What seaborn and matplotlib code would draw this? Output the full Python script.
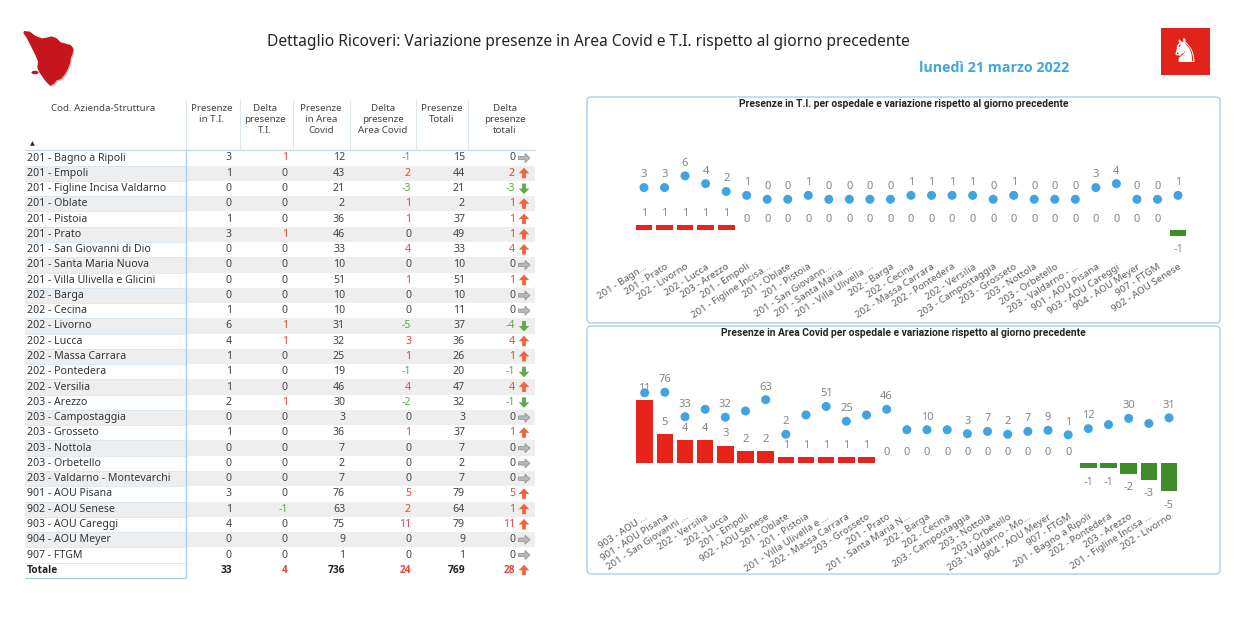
import numpy as np
import pandas as pd
import seaborn as sns
import matplotlib.pyplot as plt
from matplotlib.patches import Rectangle, FancyBboxPatch, Polygon, Ellipse, FancyArrow

# table data (one row per hospital)
names = ['201 - Bagno a Ripoli', '201 - Empoli', '201 - Figline Incisa Valdarno', '201 - Oblate',
         '201 - Pistoia', '201 - Prato', '201 - San Giovanni di Dio', '201 - Santa Maria Nuova',
         '201 - Villa Ulivella e Glicini', '202 - Barga', '202 - Cecina', '202 - Livorno',
         '202 - Lucca', '202 - Massa Carrara', '202 - Pontedera', '202 - Versilia',
         '203 - Arezzo', '203 - Campostaggia', '203 - Grosseto', '203 - Nottola',
         '203 - Orbetello', '203 - Valdarno - Montevarchi', '901 - AOU Pisana', '902 - AOU Senese',
         '903 - AOU Careggi', '904 - AOU Meyer', '907 - FTGM']
ti = [3, 1, 0, 0, 1, 3, 0, 0, 0, 0, 1, 6, 4, 1, 1, 1, 2, 0, 1, 0, 0, 0, 3, 1, 4, 0, 0]
delta_ti = [1, 0, 0, 0, 0, 1, 0, 0, 0, 0, 0, 1, 1, 0, 0, 0, 1, 0, 0, 0, 0, 0, 0, -1, 0, 0, 0]
covid = [12, 43, 21, 2, 36, 46, 33, 10, 51, 10, 10, 31, 32, 25, 19, 46, 30, 3, 36, 7, 2, 7, 76, 63, 75, 9, 1]
delta_covid = [-1, 2, -3, 1, 1, 0, 4, 0, 1, 0, 0, -5, 3, 1, -1, 4, -2, 0, 1, 0, 0, 0, 5, 2, 11, 0, 0]

# chart orders and axis labels
ti_order = ['201 - Bagno a Ripoli', '201 - Prato', '202 - Livorno', '202 - Lucca', '203 - Arezzo',
            '201 - Empoli', '201 - Figline Incisa Valdarno', '201 - Oblate', '201 - Pistoia',
            '201 - San Giovanni di Dio', '201 - Santa Maria Nuova', '201 - Villa Ulivella e Glicini',
            '202 - Barga', '202 - Cecina', '202 - Massa Carrara', '202 - Pontedera', '202 - Versilia',
            '203 - Campostaggia', '203 - Grosseto', '203 - Nottola', '203 - Orbetello',
            '203 - Valdarno - Montevarchi', '901 - AOU Pisana', '903 - AOU Careggi', '904 - AOU Meyer',
            '907 - FTGM', '902 - AOU Senese']
ti_labels = ['201 - Bagn...', '201 - Prato', '202 - Livorno', '202 - Lucca', '203 - Arezzo',
             '201 - Empoli', '201 - Figline Incisa...', '201 - Oblate', '201 - Pistoia',
             '201 - San Giovann...', '201 - Santa Maria ...', '201 - Villa Ulivella ...',
             '202 - Barga', '202 - Cecina', '202 - Massa Carrara', '202 - Pontedera', '202 - Versilia',
             '203 - Campostaggia', '203 - Grosseto', '203 - Nottola', '203 - Orbetello',
             '203 - Valdarno - ...', '901 - AOU Pisana', '903 - AOU Careggi', '904 - AOU Meyer',
             '907 - FTGM', '902 - AOU Senese']
covid_order = ['903 - AOU Careggi', '901 - AOU Pisana', '201 - San Giovanni di Dio', '202 - Versilia',
               '202 - Lucca', '201 - Empoli', '902 - AOU Senese', '201 - Oblate', '201 - Pistoia',
               '201 - Villa Ulivella e Glicini', '202 - Massa Carrara', '203 - Grosseto', '201 - Prato',
               '201 - Santa Maria Nuova', '202 - Barga', '202 - Cecina', '203 - Campostaggia',
               '203 - Nottola', '203 - Orbetello', '203 - Valdarno - Montevarchi', '904 - AOU Meyer',
               '907 - FTGM', '201 - Bagno a Ripoli', '202 - Pontedera', '203 - Arezzo',
               '201 - Figline Incisa Valdarno', '202 - Livorno']
covid_labels = ['903 - AOU ...', '901 - AOU Pisana', '201 - San Giovanni ...', '202 - Versilia',
                '202 - Lucca', '201 - Empoli', '902 - AOU Senese', '201 - Oblate', '201 - Pistoia',
                '201 - Villa Ulivella e ...', '202 - Massa Carrara', '203 - Grosseto', '201 - Prato',
                '201 - Santa Maria N...', '202 - Barga', '202 - Cecina', '203 - Campostaggia',
                '203 - Nottola', '203 - Orbetello', '203 - Valdarno - Mo...', '904 - AOU Meyer',
                '907 - FTGM', '201 - Bagno a Ripoli', '202 - Pontedera', '203 - Arezzo',
                '201 - Figline Incisa ...', '202 - Livorno']
# Power BI drops these dot labels because they collide with neighbours
covid_hidden = ['903 - AOU Careggi', '202 - Versilia', '201 - Empoli', '201 - Pistoia', '203 - Grosseto',
                '201 - Santa Maria Nuova', '202 - Cecina', '202 - Pontedera', '201 - Figline Incisa Valdarno']

df = pd.DataFrame({'name': names, 'ti': ti, 'delta_ti': delta_ti,
                   'covid': covid, 'delta_covid': delta_covid})
df['totale'] = df['ti'] + df['covid']
df['delta_tot'] = df['delta_ti'] + df['delta_covid']
df = df.set_index('name')

sns.set_theme(style='white')
plt.rcParams['font.family'] = ['Noto Sans', 'DejaVu Sans']
BOLD = ['Open Sans', 'DejaVu Sans']

RED_BAR = '#E8231B'
GREEN_BAR = '#3E8C2B'
RED_TXT = '#E4473D'
GREEN_TXT = '#5DAA47'
BLUE = '#41A4E0'
TXT = '#444444'
LABEL = '#858585'

W, H = 1234, 634
fig = plt.figure(figsize=(W / 100, H / 100), dpi=100)
bg = fig.add_axes([0, 0, 1, 1])
bg.set_xlim(0, W)
bg.set_ylim(H, 0)
bg.axis('off')

# header
tuscany = [(42, 48), (60, 50), (75, 62), (95, 70), (110, 68), (125, 64), (140, 70), (152, 82),
           (168, 86), (182, 90), (190, 100), (188, 115), (182, 130), (180, 145), (172, 165),
           (163, 180), (152, 192), (140, 196), (132, 206), (120, 212), (108, 200), (98, 186),
           (88, 172), (82, 158), (84, 140), (76, 120), (66, 100), (56, 80), (48, 65), (40, 55)]
bg.add_patch(Polygon([(10 + x / 3 + 1.2, 15 + y / 3 + 1.2) for x, y in tuscany], color='#BBBBBB', lw=0))
bg.add_patch(Polygon([(10 + x / 3, 15 + y / 3) for x, y in tuscany], color='#C4161C', lw=0))
bg.add_patch(Ellipse((35, 72.5), 7, 3.5, color='#C4161C', lw=0))
bg.text(588, 42, 'Dettaglio Ricoveri: Variazione presenze in Area Covid e T.I. rispetto al giorno precedente',
        ha='center', va='center', fontsize=11.2, color='#252423')
bg.text(1069, 68, 'lunedì 21 marzo 2022', ha='right', va='center', fontsize=10.3,
        fontweight='bold', color='#41A5E1', family=BOLD)
bg.add_patch(Rectangle((1161, 28), 49, 47, color='#E2231A', lw=0))
bg.text(1185, 52, '\u265e', ha='center', va='center', fontsize=24, color='white',
        family=['DejaVu Sans'])

# table
col_right = [232, 288, 345, 411, 465, 515]
col_center = [212, 265, 321, 383, 442, 505]
headers = ['Presenze\nin T.I.', 'Delta\npresenze\nT.I.', 'Presenze\nin Area\nCovid',
           'Delta\npresenze\nArea Covid', 'Presenze\nTotali', 'Delta\npresenze\ntotali']
cols = ['ti', 'delta_ti', 'covid', 'delta_covid', 'totale', 'delta_tot']
row_y0, row_h = 158, 15.27
FS = 7.6

bg.text(103, 104, 'Cod. Azienda-Struttura', ha='center', va='top', fontsize=7, color=TXT)
bg.text(32, 144, '\u25b2', ha='center', va='center', fontsize=4.5, color='#222222')
for cx, h in zip(col_center, headers):
    bg.text(cx, 104, h, ha='center', va='top', fontsize=7, color=TXT, linespacing=1.3)
for sx in [186, 240, 293, 350, 416, 468]:
    bg.plot([sx, sx], [100, 149], color='#DCE8F2', lw=0.8)
bg.plot([25, 535], [150, 150], color='#C5DBEC', lw=0.9)


def sign_color(v):
    if v > 0:
        return RED_TXT
    if v < 0:
        return GREEN_TXT
    return TXT


def trend_arrow(y, v):
    if v > 0:
        bg.add_patch(FancyArrow(524, y + 5, 0, -10.5, width=3.8, head_width=10.5, head_length=5.5,
                                length_includes_head=True, color='#F0643C', lw=0))
    elif v < 0:
        bg.add_patch(FancyArrow(524, y - 5, 0, 10.5, width=3.8, head_width=10.5, head_length=5.5,
                                length_includes_head=True, color='#5CAD45', lw=0))
    else:
        bg.add_patch(FancyArrow(518.5, y, 11.5, 0, width=3.4, head_width=9, head_length=5,
                                length_includes_head=True, fc='#B8B8B8', ec='#8C8C8C', lw=0.5))


for i, name in enumerate(names):
    y = row_y0 + i * row_h
    if i % 2 == 1:
        bg.add_patch(Rectangle((25, y - row_h / 2), 510, row_h, color='#EEEEEE', lw=0))
    bg.plot([25, 186], [y + row_h / 2, y + row_h / 2], color='#D7E6F1', lw=0.6)
    bg.text(27, y, name, ha='left', va='center', fontsize=FS, color='#333333')
    row = df.loc[name]
    for c, rx in zip(cols, col_right):
        v = int(row[c])
        color = sign_color(v) if c.startswith('delta') else TXT
        bg.text(rx, y, str(v), ha='right', va='center', fontsize=FS, color=color)
    trend_arrow(y, int(row['delta_tot']))

y = row_y0 + len(names) * row_h
bg.text(27, y, 'Totale', ha='left', va='center', fontsize=7.3, color='#222222',
        fontweight='bold', family=BOLD)
for c, rx in zip(cols, col_right):
    v = int(df[c].sum())
    color = sign_color(v) if c.startswith('delta') else '#222222'
    bg.text(rx, y, str(v), ha='right', va='center', fontsize=7.3, color=color,
            fontweight='bold', family=BOLD)
trend_arrow(y, int(df['delta_tot'].sum()))
bg.plot([186, 186], [150, 578], color='#A9CBE6', lw=0.9)
bg.plot([25, 186], [578, 578], color='#A9CBE6', lw=0.9)


# charts
def draw_chart(panel, title, ax_px, order, labels, pres_col, delta_col, bar_lim, dot_lim, hidden):
    x0, y0, x1, y1 = panel
    bg.add_patch(FancyBboxPatch((x0, y0), x1 - x0, y1 - y0, boxstyle='round,pad=0,rounding_size=4',
                                fc='none', ec='#A8D1EE', lw=1))
    bg.text((x0 + x1) / 2, y0 + 7, title, ha='center', va='center', fontsize=7.4,
            fontweight='bold', color='#252423', family=['Roboto', 'DejaVu Sans'])

    l, t, r, b = ax_px
    ax = fig.add_axes([l / W, 1 - b / H, (r - l) / W, (b - t) / H])
    ax.patch.set_alpha(0)
    n = len(order)
    sub = df.loc[order]
    deltas = sub[delta_col].to_numpy()
    pres = sub[pres_col].to_numpy()
    signs = np.where(deltas < 0, 'neg', 'pos')
    sns.barplot(x=np.arange(n), y=deltas, hue=signs, palette={'pos': RED_BAR, 'neg': GREEN_BAR},
                dodge=False, legend=False, width=0.82, ax=ax, saturation=1, linewidth=0)
    ax.set_xlim(-0.5, n - 0.5)
    ax.set_ylim(*bar_lim)
    for i, d in enumerate(deltas):
        off = -10 if d < 0 else (7.5 if d == 0 else 8.4)
        ax.annotate(str(d), (i, d), xytext=(0, off), textcoords='offset points',
                    ha='center', va='center', fontsize=8, color=LABEL)

    ax2 = ax.twinx()
    ax2.patch.set_alpha(0)
    sns.scatterplot(x=np.arange(n), y=pres, color=BLUE, s=42, edgecolor='none', ax=ax2)
    ax2.set_ylim(*dot_lim)
    for i, (name, v) in enumerate(zip(order, pres)):
        if name in hidden:
            continue
        ax2.annotate(str(v), (i, v), xytext=(0, 9.1), textcoords='offset points',
                     ha='center', va='center', fontsize=8, color=LABEL)

    ax.set_xticks(np.arange(n))
    ax.set_xticklabels(labels, rotation=33, ha='right', rotation_mode='anchor',
                       fontsize=7, color='#605E5C')
    ax.tick_params(axis='x', length=0, pad=3)
    ax.set_yticks([])
    ax2.set_yticks([])
    ax.set_xlabel('')
    ax.set_ylabel('')
    ax2.set_ylabel('')
    for a in (ax, ax2):
        for s in a.spines.values():
            s.set_visible(False)


draw_chart((587, 97, 1220, 323), 'Presenze in T.I. per ospedale e variazione rispetto al giorno precedente',
           (633.7, 115, 1188.3, 258), ti_order, ti_labels, 'ti', 'delta_ti',
           (-5.04, 20.96), (-15.05, 21.6), [])
draw_chart((587, 326, 1220, 574), 'Presenze in Area Covid per ospedale e variazione rispetto al giorno precedente',
           (634.6, 345, 1179.1, 508), covid_order, covid_labels, 'covid', 'delta_covid',
           (-7.95, 20.65), (-127.9, 159.3), covid_hidden)

fig.savefig('out.png', dpi=100, facecolor='white')
